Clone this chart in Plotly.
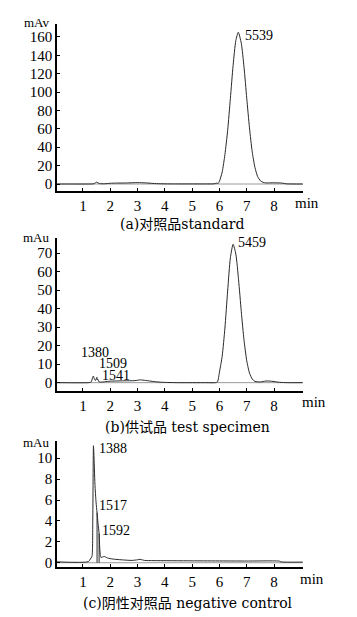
import plotly.graph_objects as go

# ---------- data ----------
# (a) standard
a_t = [0.05, 0.5, 1.0, 1.4, 1.5, 1.6, 1.8, 2.0, 2.2, 2.6, 3.0, 3.3, 3.7, 4.0, 4.5,
       5.0, 5.5, 5.8, 5.9, 5.95, 6.0, 6.1, 6.2, 6.3, 6.4, 6.5, 6.6, 6.69, 6.8, 6.9,
       7.0, 7.1, 7.2, 7.3, 7.4, 7.5, 7.6, 7.7, 8.0, 8.3, 8.45, 9.05]
a_y = [0.0, 0.0, 0.0, 0.3, 2.0, 0.5, 0.3, 0.8, 1.0, 1.1, 1.5, 1.2, 0.4, 0.2, 0.1,
       0.1, 0.1, 0.2, 1.0, 0.5, 3.0, 13.0, 32.0, 58.0, 93.0, 129.0, 156.0, 165.0, 153.0, 127.0,
       93.0, 61.0, 35.0, 18.0, 8.0, 3.5, 1.8, 1.2, 1.3, 1.0, 0.2, 0.0]
a_ticks = [0, 20, 40, 60, 80, 100, 120, 140, 160]

# (b) test specimen
b_t = [0.05, 1.2, 1.3, 1.35, 1.38, 1.42, 1.46, 1.51, 1.525, 1.54, 1.58, 1.65, 1.8, 2.0,
       2.5, 2.9, 3.1, 3.3, 3.6, 3.9, 4.5, 5.5, 5.85, 5.93, 6.0, 6.1, 6.2, 6.3, 6.4, 6.5,
       6.6, 6.7, 6.8, 6.9, 7.0, 7.1, 7.2, 7.3, 7.5, 7.7, 7.9, 8.2, 8.5, 9.05]
b_y = [0.0, 0.0, 0.3, 2.5, 3.6, 2.0, 1.2, 2.9, 1.6, 2.0, 0.6, 0.3, 0.5, 0.8,
       1.0, 1.1, 1.5, 1.2, 0.6, 0.2, 0.0, 0.0, 0.0, 0.5, 5.7, 14.3, 29.5, 49.5, 67.5, 74.8,
       69.5, 55.6, 38.4, 22.9, 11.8, 5.2, 2.0, 0.7, 0.4, 0.9, 0.8, 0.2, 0.0, 0.0]
b_ticks = [0, 10, 20, 30, 40, 50, 60, 70]

# (c) negative control
c_t = [0.05, 1.2, 1.27, 1.33, 1.36, 1.385, 1.40, 1.44, 1.48, 1.517, 1.55, 1.592, 1.62,
       1.66, 1.72, 1.78, 1.9, 2.1, 2.4, 2.8, 3.0, 3.1, 3.25, 3.6, 5.0, 7.0, 8.2, 8.25, 9.05]
c_y = [0.08, 0.1, 0.35, 0.6, 4.0, 11.2, 10.5, 7.5, 5.8, 4.8, 3.8, 2.8, 1.2,
       0.5, 0.55, 0.6, 0.45, 0.35, 0.28, 0.22, 0.28, 0.32, 0.22, 0.2, 0.18, 0.16, 0.15, 0.08, 0.06]
c_drop_t = [1.517, 1.592]
c_drop_h = [4.8, 2.8]
c_ticks = [0, 2, 4, 6, 8, 10]
c_dot = (9.13, 5.45)

x_ticks = [1, 2, 3, 4, 5, 6, 7, 8]

# peak labels: (panel, x, y, text)
peak_labels = [
    (1, 6.85, 162, "5539"),
    (2, 6.60, 75.5, "5459"),
    (2, 0.85, 16.3, "1380"),
    (2, 1.51, 10.6, "1509"),
    (2, 1.62, 4.0, "1541"),
    (3, 1.51, 10.98, "1388"),
    (3, 1.51, 5.43, "1517"),
    (3, 1.62, 3.13, "1592"),
]

captions = ["(a)对照品standard", "(b)供试品 test specimen", "(c)阴性对照品 negative control"]
units = ["mAv", "mAu", "mAu"]

# ---------- figure ----------
W, H = 357, 617
FONT = "Liberation Serif, Noto Sans CJK SC, serif"
CAPFONT = "DejaVu Serif, Noto Sans CJK SC, serif"
LINE = "#2a2a2a"
TXT = "#000"

fig = go.Figure()

panels = [
    dict(t=a_t, y=a_y, ticks=a_ticks, yr=[-7.6, 174], top=24, bot=191),
    dict(t=b_t, y=b_y, ticks=b_ticks, yr=[-4.5, 78.2], top=238, bot=391),
    dict(t=c_t, y=c_y, ticks=c_ticks, yr=[-0.41, 11.65], top=441, bot=567),
]
x_l, x_r = 57, 303

for i, p in enumerate(panels, start=1):
    xa = "x" if i == 1 else f"x{i}"
    ya = "y" if i == 1 else f"y{i}"
    fig.add_trace(go.Scatter(x=[p["t"][0], p["t"][-1]], y=[0, 0], mode="lines",
                             line=dict(color="#9a9a9a", width=1), xaxis=xa, yaxis=ya,
                             hoverinfo="skip", showlegend=False))
    fig.add_trace(go.Scatter(x=p["t"], y=p["y"], mode="lines",
                             line=dict(color=LINE, width=1, shape="spline", smoothing=0.6),
                             xaxis=xa, yaxis=ya, showlegend=False))
    axis_common = dict(showline=True, linecolor="black", linewidth=1.5, showgrid=False,
                       zeroline=False, ticks="inside", ticklen=3, tickcolor="black",
                       automargin=False,
                       tickfont=dict(family=FONT, size=15, color=TXT))
    fig.update_layout({
        ("xaxis" if i == 1 else f"xaxis{i}"): dict(
            domain=[x_l / W, x_r / W], range=[0.05, 9.06], tickvals=x_ticks,
            anchor=ya, **axis_common),
        ("yaxis" if i == 1 else f"yaxis{i}"): dict(
            domain=[1 - p["bot"] / H, 1 - p["top"] / H], range=p["yr"], tickvals=p["ticks"],
            anchor=xa, **axis_common),
    })

for t0, h0 in zip(c_drop_t, c_drop_h):
    fig.add_trace(go.Scatter(x=[t0, t0], y=[0, h0], mode="lines",
                             line=dict(color=LINE, width=1), xaxis="x3", yaxis="y3",
                             showlegend=False, hoverinfo="skip"))
fig.add_trace(go.Scatter(x=[c_dot[0]], y=[c_dot[1]], mode="markers",
                         marker=dict(symbol="square", size=3, color="black"),
                         xaxis="x3", yaxis="y3", cliponaxis=False, showlegend=False))

ann = []
for pnl, x, y, txt in peak_labels:
    xr = "x" if pnl == 1 else f"x{pnl}"
    yr = "y" if pnl == 1 else f"y{pnl}"
    ann.append(dict(x=x, y=y, xref=xr, yref=yr, text=txt, showarrow=False,
                    xanchor="left", yanchor="middle", font=dict(family=FONT, size=14, color=TXT)))

min_pos = [(293, 203), (300, 402), (298, 579)]
unit_pos = [(52, 23), (52, 238), (52, 442)]
cap_pos = [(181.5, 224), (187, 427), (187.5, 603)]
for (mx, my), (ux, uy), (cx, cy), u, c in zip(min_pos, unit_pos, cap_pos, units, captions):
    ann.append(dict(x=mx / W, y=1 - my / H, xref="paper", yref="paper", text="min",
                    showarrow=False, xanchor="left", yanchor="middle",
                    font=dict(family=FONT, size=15, color=TXT)))
    ann.append(dict(x=ux / W, y=1 - uy / H, xref="paper", yref="paper", text=u,
                    showarrow=False, xanchor="right", yanchor="middle",
                    font=dict(family=FONT, size=13, color=TXT)))
    ann.append(dict(x=cx / W, y=1 - cy / H, xref="paper", yref="paper", text=c,
                    showarrow=False, xanchor="center", yanchor="middle",
                    font=dict(family=CAPFONT, size=14, color=TXT)))

fig.update_layout(width=W, height=H, margin=dict(l=0, r=0, t=0, b=0),
                  paper_bgcolor="white", plot_bgcolor="white", annotations=ann,
                  font=dict(family=FONT))

fig.write_html("out.html", config={"displayModeBar": False},
               post_script="document.body.style.margin='0px';document.body.style.padding='0px';")
